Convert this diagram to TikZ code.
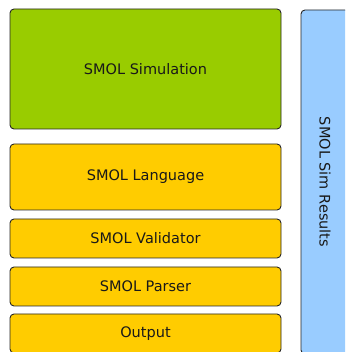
\documentclass[tikz,border=0pt]{standalone}
\usepackage{fontspec}
\setmainfont{DejaVu Sans}
\definecolor{simgreen}{HTML}{99CC00}
\definecolor{smolyellow}{HTML}{FFCC00}
\definecolor{resultblue}{HTML}{99CCFF}

\begin{document}
\begin{tikzpicture}[x=1pt, y=1pt,
  every node/.style = {shape=rectangle, rounded corners=4pt,
    draw=black!85, line width=0.9pt, align=center, inner sep=0pt,
    text=black!90, font=\fontsize{14.5}{17}\selectfont},
  layer/.style = {fill=smolyellow, minimum width=271pt}]
  \useasboundingbox (0,0) rectangle (345,352);
  \clip (0,0) rectangle (345,352);
  \node[fill=simgreen, minimum width=271pt, minimum height=120pt] (simulation) at (145.5,283) {SMOL Simulation};
  \node[layer, minimum height=66pt] (language) at (145.5,175) {SMOL Language};
  \node[layer, minimum height=39pt] (validator) at (145.5,113.5) {SMOL Validator};
  \node[layer, minimum height=39pt] (parser) at (145.5,65.5) {SMOL Parser};
  \node[layer, minimum height=39pt] (output) at (145.5,18.5) {Output};
  \node[fill=resultblue, rotate=-90, minimum width=344pt, minimum height=48pt] (results) at (325,170) {SMOL Sim Results};
\end{tikzpicture}
\end{document}
